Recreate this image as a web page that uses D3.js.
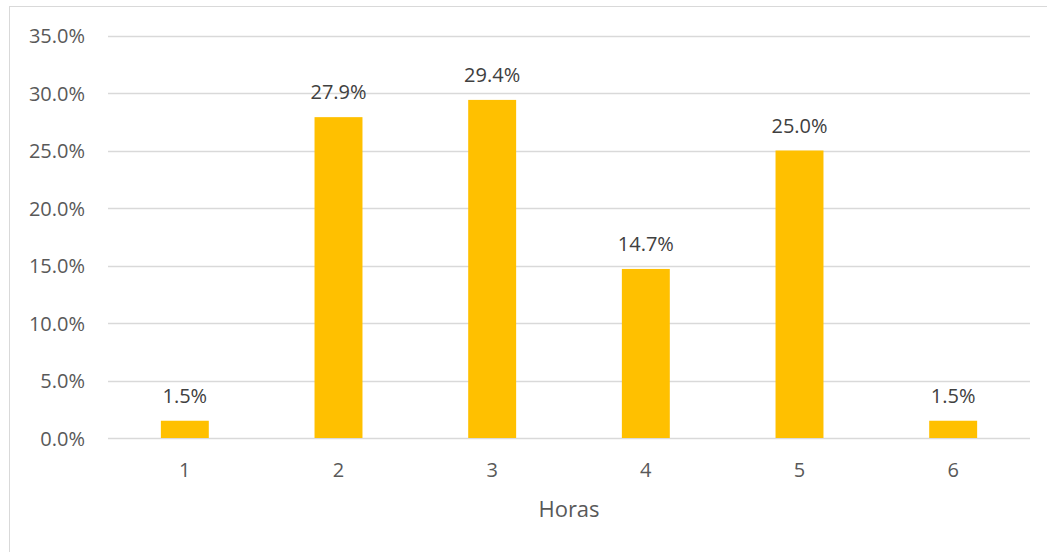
<!DOCTYPE html>
<html>
<head>
<meta charset="utf-8">
<script src="https://cdn.jsdelivr.net/npm/d3@7"></script>
<style>
  html, body { margin: 0; padding: 0; background: #fff; }
  svg { display: block; }
  text { font-family: "Open Sans", "Noto Sans", sans-serif; }
</style>
</head>
<body>
<svg id="chart" width="1047" height="552"></svg>
<script>
const categories = ["1", "2", "3", "4", "5", "6"];
const values = [1.5, 27.9, 29.4, 14.7, 25.0, 1.5];
const yTicks = [0, 5, 10, 15, 20, 25, 30, 35];
const axisTitle = "Horas";

const svg = d3.select("#chart");
const W = 1047, H = 552;
const plot = { left: 108, right: 1030, top: 35.5, bottom: 438 };

// chart border
svg.append("rect")
  .attr("x", 9.5).attr("y", 6.5)
  .attr("width", W + 10).attr("height", H + 10)
  .attr("fill", "none").attr("stroke", "#d9d9d9").attr("stroke-width", 1);

const x = d3.scaleBand().domain(categories).range([plot.left, plot.right]).paddingInner(0.688).paddingOuter(0.344);
const y = d3.scaleLinear().domain([0, 35]).range([plot.bottom, plot.top]);

// gridlines
svg.append("g").selectAll("line").data(yTicks).join("line")
  .attr("x1", plot.left).attr("x2", plot.right)
  .attr("y1", d => Math.round(y(d)) + 0.5).attr("y2", d => Math.round(y(d)) + 0.5)
  .attr("stroke", "#d9d9d9").attr("stroke-width", 1.3);

// y axis labels
const yAxis = d3.axisLeft(y).tickValues(yTicks).tickFormat(d => d.toFixed(1) + "%").tickSize(0).tickPadding(0);
const gy = svg.append("g").attr("transform", `translate(85,0)`).call(yAxis);
gy.select(".domain").remove();
gy.selectAll("text").attr("fill", "#595959").style("font-size", "20px").attr("dy", "0.35em");

// bars
svg.append("g").selectAll("rect").data(values).join("rect")
  .attr("x", (d, i) => x(categories[i]))
  .attr("width", x.bandwidth())
  .attr("y", d => y(d))
  .attr("height", d => y(0) - y(d))
  .attr("fill", "#ffc000");

// data labels
svg.append("g").selectAll("text").data(values).join("text")
  .attr("x", (d, i) => x(categories[i]) + x.bandwidth() / 2)
  .attr("y", d => y(d) - 18)
  .attr("text-anchor", "middle")
  .attr("fill", "#404040")
  .style("font-size", "20px")
  .text(d => d.toFixed(1) + "%");

// x axis labels
const xAxis = d3.axisBottom(x).tickSize(0).tickPadding(0);
const gx = svg.append("g").attr("transform", `translate(0,${plot.bottom})`).call(xAxis);
gx.select(".domain").remove();
gx.selectAll("text").attr("fill", "#595959").style("font-size", "20px").attr("y", 39).attr("dy", 0);

// axis title
svg.append("text")
  .attr("x", (plot.left + plot.right) / 2)
  .attr("y", 517)
  .attr("text-anchor", "middle")
  .attr("fill", "#595959")
  .style("font-size", "22px")
  .text(axisTitle);
</script>
</body>
</html>
